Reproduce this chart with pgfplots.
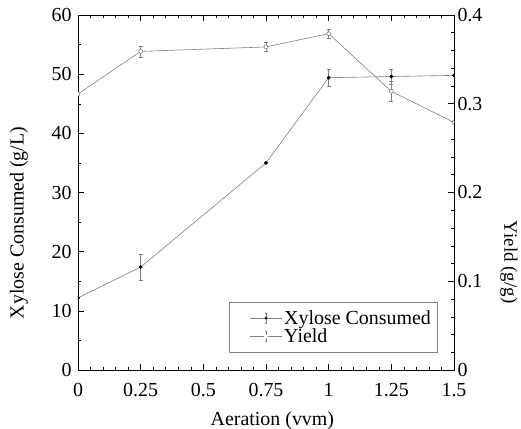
\documentclass[border=0pt]{standalone}
\usepackage{fontspec}
\setmainfont{Liberation Serif}
\usepackage{pgfplots}
\pgfplotsset{compat=1.18}
\definecolor{linegray}{gray}{0.5}

\pgfplotsset{
  errleg/.style={legend image code/.code={
      \path (-17pt,0pt);
      \draw[linegray,line width=0.5pt] (0pt,0pt) -- (32pt,0pt);
      \draw[linegray,line width=0.5pt] (16pt,-5pt) -- (16pt,5pt)
        (14.5pt,-5pt) -- (17.5pt,-5pt) (14.5pt,5pt) -- (17.5pt,5pt);
      \draw[mark repeat=2,mark phase=2,##1,draw opacity=0] plot coordinates {(0pt,0pt) (16pt,0pt) (32pt,0pt)};
  }},
  common/.style={
    scale only axis, width=376bp, height=355bp,
    xmin=0, xmax=1.5,
    axis line style={black, line width=0.6pt},
    tick style={black, line width=0.5pt},
    major tick length=6bp, minor tick length=3bp,
    tick align=inside,
    tick label style={font=\fontsize{20}{22}\selectfont},
    /pgf/number format/assume math mode=true,
    clip marker paths=true,
  },
}

\begin{document}
\begin{tikzpicture}
\begin{axis}[
    common,
    ymin=0, ymax=60,
    xtick={0,0.25,0.5,0.75,1,1.25,1.5},
    xticklabels={0,0.25,0.5,0.75,1,1.25,1.5},
    minor x tick num=4,
    xtick pos=both,
    ytick={0,10,20,30,40,50,60},
    minor y tick num=1,
    ytick pos=left,
    xticklabel style={yshift=-10pt},
    yticklabel style={xshift=-3pt},
    xlabel={Aeration (vvm)},
    ylabel={Xylose Consumed (g/L)},
    every axis x label/.style={at={(axis description cs:0.517,-0.143)}, anchor=center,
      font=\fontsize{20}{22}\selectfont},
    every axis y label/.style={at={(axis description cs:-0.157,0.414)}, rotate=90, anchor=center,
      font=\fontsize{20}{22}\selectfont},
]
\addplot[linegray, line width=0.6pt, mark=*, mark size=1.6pt,
  mark options={fill=black, draw=black},
  error bars/.cd, y dir=both, y explicit,
  error bar style={linegray, line width=0.5pt},
  error mark options={linegray, rotate=90, mark size=2pt}]
  coordinates {
    (0,12.2) +- (0,0)
    (0.25,17.4) +- (0,2.2)
    (0.75,35.0) +- (0,0)
    (1,49.4) +- (0,1.4)
    (1.25,49.6) +- (0,1.3)
    (1.5,49.8) +- (0,0)
  };
\end{axis}
\begin{axis}[
    common,
    ymin=0, ymax=0.4,
    hide x axis,
    axis y line*=right,
    ytick={0,0.1,0.2,0.3,0.4},
    yticklabels={0,0.1,0.2,0.3,0.4},
    minor y tick num=4,
    ylabel={Yield (g/g)},
    every axis y label/.style={at={(axis description cs:1.146,0.304)}, rotate=-90, anchor=center,
      font=\fontsize{19}{21}\selectfont},
    legend style={at={(0.955,0.05)}, anchor=south east, draw=linegray,
      font=\fontsize{20}{20}\selectfont, inner xsep=4pt, inner ysep=6pt,
      row sep=-1pt},
    legend cell align=left,
]
\addlegendimage{errleg, mark=*, mark size=1.6pt, mark options={fill=black, draw=black}}
\addlegendentry{Xylose Consumed}
\addplot[errleg, linegray, line width=0.6pt, mark=*, mark size=2pt,
  mark options={fill=white, draw=linegray},
  error bars/.cd, y dir=both, y explicit,
  error bar style={linegray, line width=0.5pt},
  error mark options={linegray, rotate=90, mark size=2pt}]
  coordinates {
    (0,0.311) +- (0,0)
    (0.25,0.359) +- (0,0.006)
    (0.75,0.364) +- (0,0.005)
    (1,0.379) +- (0,0.0055)
    (1.25,0.314) +- (0,0.0115)
    (1.5,0.279) +- (0,0)
  };
\addlegendentry{Yield}
\end{axis}
\pgfresetboundingbox
\useasboundingbox (-78bp,-59bp) rectangle (443bp,370bp);
\end{tikzpicture}
\end{document}
